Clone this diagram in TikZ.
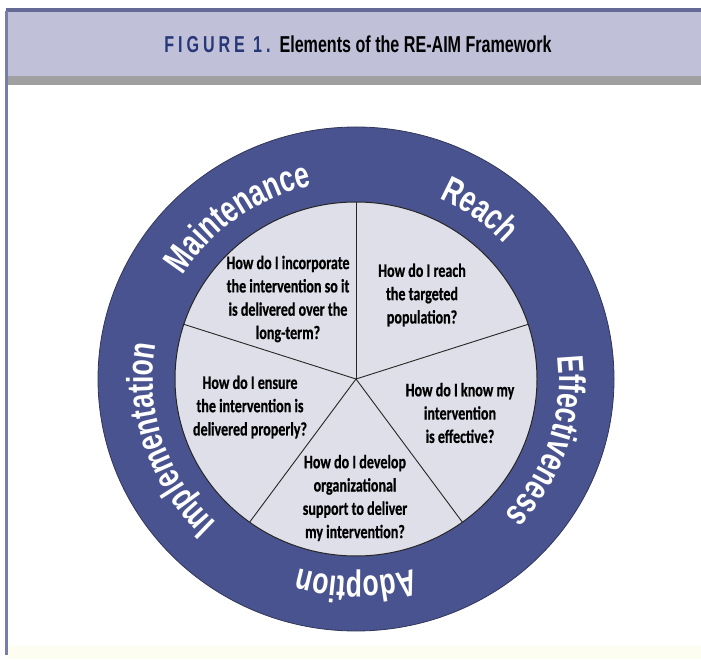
\documentclass[tikz,border=0pt]{standalone}
\usepackage{fontspec}
\usetikzlibrary{decorations.text,calc}
\newfontfamily\qfont[FakeStretch=0.74,FakeBold=0.6]{Carlito}
\newfontfamily\lblfont[FakeStretch=0.72]{Liberation Sans}
\newfontfamily\ttlfont[FakeStretch=0.70]{Liberation Sans}
\definecolor{ringblue}{RGB}{73,83,143}
\definecolor{ringedge}{RGB}{50,55,90}
\definecolor{innergrey}{RGB}{222,223,232}
\definecolor{headlav}{RGB}{192,193,216}
\definecolor{headline}{RGB}{100,105,150}
\definecolor{greybar}{RGB}{160,160,160}
\definecolor{leftline}{RGB}{120,125,170}
\definecolor{titleblue}{RGB}{40,55,120}
\definecolor{cream}{RGB}{253,253,242}
\tikzset{
  qtext/.style={align=center, inner sep=0pt, text=black,
    font=\qfont\bfseries\fontsize{19}{23.3}\selectfont},
  spoke/.style={draw=black!85, line width=0.9pt},
  ringlabel/.style={decorate, decoration={text along path, text align=center, text color=white,
    text={|\lblfont\bfseries\fontsize{37}{40}\selectfont|#1}}}
}
\begin{document}
\begin{tikzpicture}[x=1pt,y=1pt]
\useasboundingbox (0,0) rectangle (701,659);
\fill[white] (0,0) rectangle (701,659);
\fill[cream] (8,0) rectangle (701,13);
\fill[headlav] (6,583) rectangle (701,648);
\fill[headline] (6,647) rectangle (701,651);
\fill[greybar] (6,574) rectangle (701,583);
\fill[leftline] (5,4) rectangle (8,648);
\node[font=\ttlfont\bfseries\fontsize{23}{26}\selectfont] (title) at (358,615)
  {{\color{titleblue}\addfontfeatures{LetterSpace=17}FIGURE 1.}\hspace{9pt}Elements of the RE-AIM Framework};
\coordinate (c) at (356,280);
\filldraw[fill=ringblue, draw=ringedge, line width=0.8pt] (c) ellipse[x radius=258, y radius=252];
\filldraw[fill=innergrey, draw=black!85, line width=1pt] (c) ellipse[x radius=181, y radius=177];
\coordinate (s1) at ([shift={(90:181 and 177)}]c);
\coordinate (s2) at ([shift={(18:181 and 177)}]c);
\coordinate (s3) at ([shift={(-54:181 and 177)}]c);
\coordinate (s4) at ([shift={(-126:181 and 177)}]c);
\coordinate (s5) at ([shift={(162:181 and 177)}]c);
\foreach \s in {s1,s2,s3,s4,s5} \draw[spoke] (c) -- (\s);
\path[ringlabel=Maintenance] ([shift={(186:203 and 198)}]c) arc[start angle=186, end angle=66, x radius=203, y radius=198];
\path[ringlabel=Reach] ([shift={(114:203 and 198)}]c) arc[start angle=114, end angle=-6, x radius=203, y radius=198];
\path[ringlabel=Effectiveness] ([shift={(42:203 and 198)}]c) arc[start angle=42, end angle=-78, x radius=203, y radius=198];
\path[ringlabel=Adoption] ([shift={(-30:203 and 198)}]c) arc[start angle=-30, end angle=-150, x radius=203, y radius=198];
\path[ringlabel=Implementation] ([shift={(258:203 and 198)}]c) arc[start angle=258, end angle=138, x radius=203, y radius=198];
\node[qtext] (qm) at (288,360) {How do I incorporate\\the intervention so it\\is delivered over the\\long-term?};
\node[qtext] (qr) at (422,364) {How do I reach\\the targeted\\population?};
\node[qtext] (qe) at (460,246) {How do I know my\\intervention\\is effective?};
\node[qtext] (qi) at (250,252) {How do I ensure\\the intervention is\\delivered properly?};
\node[qtext] (qa) at (355,161) {How do I develop\\organizational\\support to deliver\\my intervention?};
\end{tikzpicture}
\end{document}
